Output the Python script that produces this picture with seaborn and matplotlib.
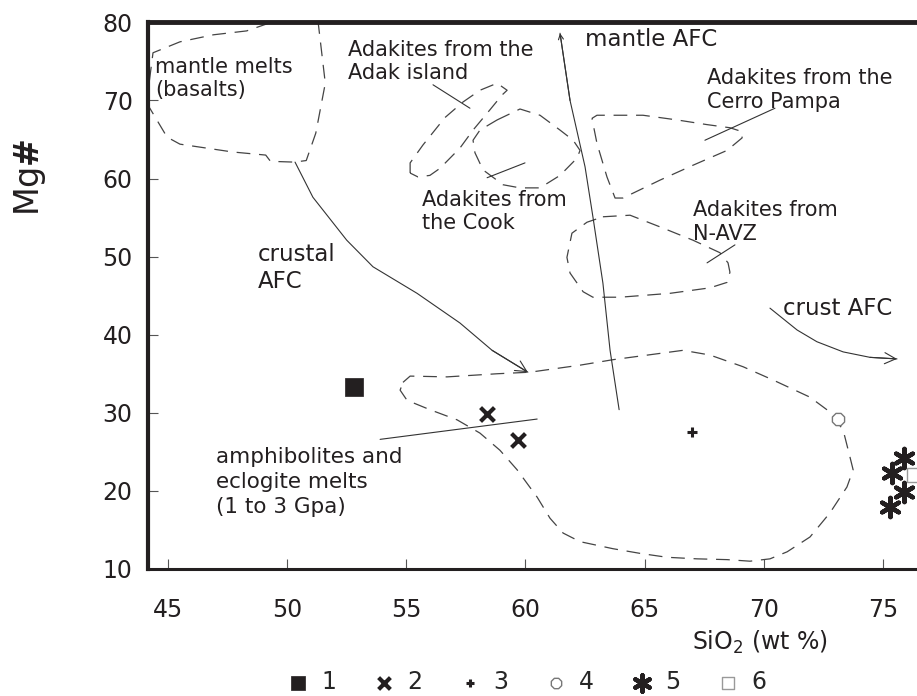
import numpy as np
import pandas as pd
import matplotlib.pyplot as plt
import seaborn as sns

sns.set_style('ticks')
plt.rcParams['font.family'] = ['DejaVu Sans']

grupo = ['1', '2', '2', '3', '4', '5', '5', '5', '5', '6']
sio2 = [52.8, 58.4, 59.7, 67.0, 73.1, 75.9, 75.4, 75.9, 75.3, 76.3]
mg = [33.3, 29.8, 26.5, 27.5, 29.2, 24.2, 22.3, 19.9, 17.9, 22.0]

# campos (contornos tracejados)
mantle_x = [44.1, 44.37, 45.5, 46.9, 48.3, 49.15, 50.3, 51.2, 51.3, 51.6, 51.2, 50.8, 50.3, 49.3, 49.1, 47.7, 45.5, 44.96]
mantle_y = [69.7, 76.1, 77.5, 78.4, 78.9, 79.8, 81.0, 81.0, 80.0, 72.2, 65.8, 62.3, 62.1, 62.2, 63.0, 63.4, 64.4, 65.3]
adak_x = [55.16, 55.16, 55.70, 56.62, 57.38, 58.09, 58.81, 59.23, 59.02, 58.51, 57.80, 57.25, 56.41, 55.99, 55.49]
adak_y = [60.7, 62.0, 64.3, 67.8, 69.8, 71.3, 72.2, 71.3, 70.7, 68.8, 66.2, 63.9, 61.3, 60.4, 60.2]
cook_x = [58.81, 59.77, 60.61, 61.45, 62.0, 62.29, 62.16, 61.45, 60.61, 59.77, 59.06, 58.22, 57.88, 57.80, 58.09]
cook_y = [67.5, 68.9, 68.1, 66.2, 64.9, 63.6, 62.6, 60.4, 58.8, 58.8, 59.2, 61.1, 63.3, 64.9, 66.2]
cerro_x = [62.79, 63.0, 64.93, 66.36, 67.62, 68.58, 69.09, 69.09, 68.46, 67.03, 65.65, 64.09, 63.76, 63.42, 63.0]
cerro_y = [67.7, 68.1, 68.1, 67.5, 66.9, 66.5, 66.0, 65.2, 63.6, 61.7, 59.8, 57.5, 57.5, 60.2, 64.5]
navz_x = [63.25, 64.39, 65.65, 67.03, 68.16, 68.50, 68.58, 68.46, 67.74, 66.07, 63.97, 62.83, 62.42, 61.87, 61.74, 61.95, 62.58]
navz_y = [55.1, 55.3, 53.8, 52.1, 50.5, 49.2, 48.0, 46.7, 46.0, 45.3, 44.8, 44.8, 45.5, 47.9, 49.9, 53.0, 54.4]
amph_x = [54.86, 55.16, 56.71, 58.81, 60.19, 62.29, 63.67, 66.61, 67.74, 69.13, 70.39, 71.94, 72.78, 73.33, 73.62,
          73.75, 73.49, 72.78, 71.94, 70.98, 70.26, 69.42, 68.46, 67.20, 65.94, 64.81, 63.67, 62.29, 61.58, 61.03,
          60.49, 59.65, 58.93, 58.09, 57.13, 55.99, 55.03, 54.74]
amph_y = [33.9, 34.7, 34.6, 35.0, 35.2, 36.1, 36.8, 38.0, 37.4, 35.9, 34.2, 32.0, 30.1, 27.8, 24.3,
          22.7, 20.5, 17.2, 14.1, 12.2, 11.3, 11.0, 11.2, 11.3, 11.5, 12.0, 12.6, 13.5, 14.6, 16.5,
          19.2, 22.7, 25.2, 27.4, 29.1, 30.4, 31.6, 32.9]

# tendências AFC (setas)
crustal_x = [50.33, 51.08, 52.5, 53.6, 55.45, 57.25, 58.6, 60.1]
crustal_y = [62.1, 57.6, 52.1, 48.7, 45.3, 41.5, 38.0, 35.2]
mantle_afc_x = [63.93, 63.55, 63.25, 62.83, 62.50, 61.87, 61.45]
mantle_afc_y = [30.4, 38.0, 46.6, 55.1, 61.5, 70.0, 78.6]
crust_afc_x = [70.26, 71.40, 72.23, 73.33, 74.46, 75.59]
crust_afc_y = [43.4, 40.6, 39.1, 37.8, 37.1, 36.9]

# linhas de chamada dos rótulos
leaders = {
    'adak': ([56.12, 57.67], [72.0, 69.0]),
    'cook': ([58.39, 59.98], [60.1, 62.0]),
    'cerro': ([67.53, 70.47], [64.9, 69.0]),
    'navz': ([67.62, 68.79], [49.2, 51.5]),
    'amph': ([53.9, 60.49], [26.6, 29.2]),
}

xticks = [45, 50, 55, 60, 65, 70, 75]
yticks = [10, 20, 30, 40, 50, 60, 70, 80]

df = pd.DataFrame({'grupo': grupo, 'SiO2': sio2, 'Mg': mg})

fig = plt.figure(figsize=(9.17, 6.96), dpi=100)
ax = fig.add_axes([148 / 917, 1 - 569 / 696, 1 - 148 / 917, 547 / 696])

cor = '#231f20'
tracejado = dict(color='#444444', lw=0.9, ls=(0, (11, 7)))
for fx, fy in [(mantle_x, mantle_y), (adak_x, adak_y), (cook_x, cook_y),
               (cerro_x, cerro_y), (navz_x, navz_y), (amph_x, amph_y)]:
    ax.plot(np.r_[fx, fx[:1]], np.r_[fy, fy[:1]], **tracejado)

for lx, ly in leaders.values():
    ax.plot(lx, ly, color='#333333', lw=0.8)

# setas
for px, py, ms in [(crustal_x, crustal_y, 20), (mantle_afc_x, mantle_afc_y, 9), (crust_afc_x, crust_afc_y, 20)]:
    ax.plot(px, py, color='#333333', lw=0.8)
    ax.annotate('', xy=(px[-1], py[-1]), xytext=(px[-2], py[-2]),
                arrowprops=dict(arrowstyle='->', color='#333333', lw=0.8,
                                shrinkA=0, shrinkB=0, mutation_scale=ms))

# amostras
estilos = {
    '1': dict(marker='s', s=150, color=cor, edgecolor=cor, linewidth=0.5),
    '2': dict(marker='x', s=100, color=cor, linewidth=3),
    '3': dict(marker='+', s=50, color=cor, linewidth=2.2),
    '4': dict(marker='8', s=90, color='white', edgecolor='#777777', linewidth=1),
    '5': dict(marker=(6, 2, 0), s=190, color=cor, linewidth=3.2),
    '6': dict(marker='s', s=110, color='white', edgecolor='#999999', linewidth=1),
}
for g, kw in estilos.items():
    sns.scatterplot(data=df[df['grupo'] == g], x='SiO2', y='Mg', label=g, ax=ax, zorder=5, **kw)

ax.set_xlim(44.16, 76.43)
ax.set_ylim(10, 80.04)
ax.set_xticks(xticks)
ax.set_yticks(yticks)
ax.set_xlabel('')
ax.set_ylabel('')
ax.tick_params(axis='both', direction='in', length=7, width=0.8, color='#555555',
               labelsize=17, labelcolor=cor)
ax.tick_params(axis='x', pad=21)
ax.tick_params(axis='y', pad=11)

ax.spines['right'].set_visible(False)
ax.spines['left'].set_linewidth(3)
ax.spines['top'].set_linewidth(3.5)
ax.spines['bottom'].set_linewidth(2.2)
for s in ['left', 'top', 'bottom']:
    ax.spines[s].set_color(cor)

# rótulos
txt = dict(color=cor, va='top', ha='left', linespacing=1.2)
ax.text(44.45, 75.6, 'mantle melts\n(basalts)', fontsize=15, **txt)
ax.text(52.55, 77.7, 'Adakites from the\nAdak island', fontsize=15, **txt)
ax.text(62.5, 79.3, 'mantle AFC', fontsize=16.5, **txt)
ax.text(67.62, 74.1, 'Adakites from the\nCerro Pampa', fontsize=15, **txt)
ax.text(55.66, 58.5, 'Adakites from\nthe Cook', fontsize=15, **txt)
ax.text(67.03, 57.2, 'Adakites from\nN-AVZ', fontsize=15, **txt)
ax.text(48.78, 51.7, 'crustal\nAFC', fontsize=16.5, **txt)
ax.text(70.8, 44.8, 'crust AFC', fontsize=16.5, **txt)
ax.text(47.0, 25.6, 'amphibolites and\neclogite melts\n(1 to 3 Gpa)', fontsize=15.5,
        color=cor, va='top', ha='left', linespacing=1.3)

fig.text(30 / 917, 1 - 177 / 696, r'Mg$\mathbf{\#}$', rotation=90, fontsize=24,
         ha='center', va='center', color=cor)
fig.text(692 / 917, 1 - 650 / 696, r'SiO$_2$ (wt %)', fontsize=17,
         ha='left', va='baseline', color=cor)

handles, labels = ax.get_legend_handles_labels()
leg = ax.get_legend()
if leg is not None:
    leg.remove()
fig.legend(handles, labels, loc='center', bbox_to_anchor=(0.574, 0.02), ncol=6,
           frameon=False, fontsize=17, handlelength=1.0, handletextpad=0.5,
           columnspacing=1.5, markerscale=0.85, borderpad=0)

fig.savefig('out.png', dpi=100)
